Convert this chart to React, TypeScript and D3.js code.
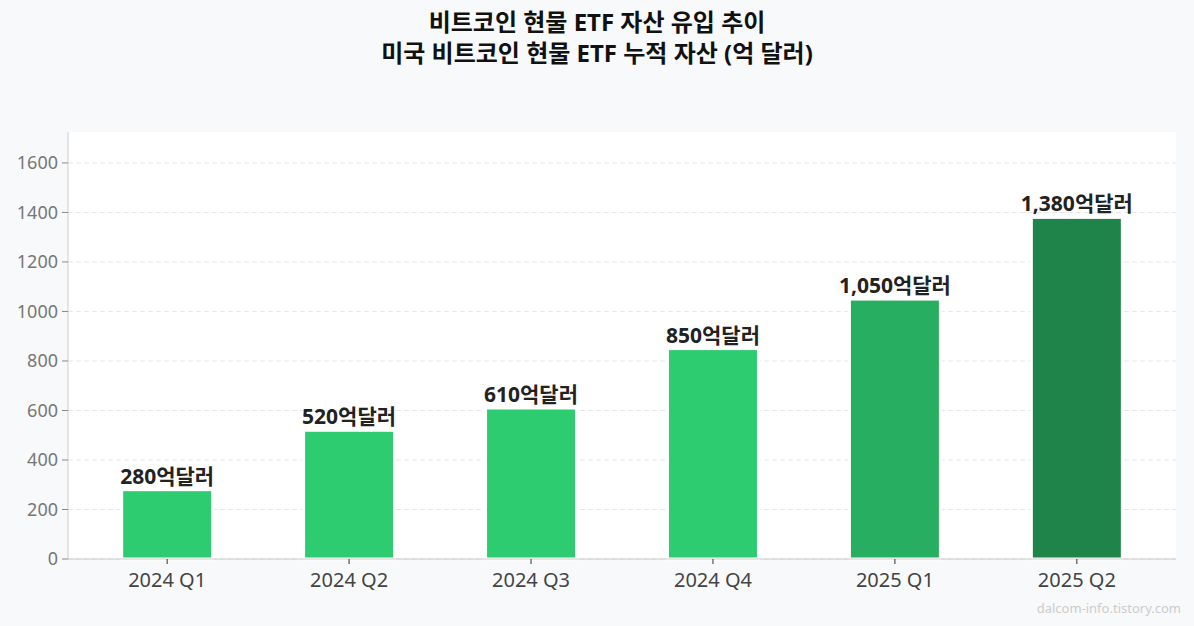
import * as React from 'react';
import * as d3 from 'd3';

const categories = ['2024 Q1', '2024 Q2', '2024 Q3', '2024 Q4', '2025 Q1', '2025 Q2'];
const values = [280, 520, 610, 850, 1050, 1380];
const labels = ['280억달러', '520억달러', '610억달러', '850억달러', '1,050억달러', '1,380억달러'];
const colours = ['#2ecc71', '#2ecc71', '#2ecc71', '#2ecc71', '#27ae60', '#1e8449'];
const yTicks = [0, 200, 400, 600, 800, 1000, 1200, 1400, 1600];

const titleLines = ['비트코인 현물 ETF 자산 유입 추이', '미국 비트코인 현물 ETF 누적 자산 (억 달러)'];
const watermark = 'dalcom-info.tistory.com';

const W = 1194;
const H = 626;
const font = '"Noto Sans", "Noto Sans CJK KR", sans-serif';

const App = () => {
  const left = 68, right = 1176, top = 132, bottom = 559;

  const xScale = d3.scaleLinear().domain([-0.545, categories.length - 0.455]).range([left, right]);
  const yScale = d3.scaleLinear().domain([0, d3.max(values)! * 1.25]).range([bottom, top]);
  const barW = xScale(0.5) - xScale(0);

  return (
    <div style={{ position: 'absolute', left: 0, top: 0 }}>
      <svg width={W} height={H} style={{ display: 'block', fontFamily: font }}>
        <rect width={W} height={H} fill="#f8f9fa" />
        <rect x={left} y={top} width={right - left} height={bottom - top} fill="#ffffff" />

        {/* grid */}
        {yTicks.map(t => (
          <line key={'g' + t} x1={left} x2={right} y1={yScale(t)} y2={yScale(t)}
            stroke="#e6e6e6" strokeWidth={1} strokeDasharray="5,3" />
        ))}

        {/* bars */}
        {values.map((v, i) => (
          <rect key={'b' + i}
            x={xScale(i) - barW / 2}
            y={yScale(v)}
            width={barW}
            height={yScale(0) - yScale(v)}
            fill={colours[i]}
            stroke="#ffffff"
            strokeWidth={3} />
        ))}

        {/* value labels */}
        {values.map((v, i) => (
          <text key={'l' + i} x={xScale(i)} y={yScale(v) - 6} textAnchor="middle"
            fontSize={21} fontWeight="bold" fill="#222222">{labels[i]}</text>
        ))}

        {/* spines */}
        <line x1={left} x2={left} y1={top} y2={bottom} stroke="#cccccc" strokeWidth={1} />
        <line x1={left} x2={right} y1={bottom} y2={bottom} stroke="#cccccc" strokeWidth={1} />

        {/* y axis */}
        {yTicks.map(t => (
          <g key={'y' + t}>
            <line x1={left - 6} x2={left} y1={yScale(t)} y2={yScale(t)} stroke="#888888" strokeWidth={1} />
            <text x={left - 10} y={yScale(t)} dy="0.35em" textAnchor="end" fontSize={18} fill="#777777">{t}</text>
          </g>
        ))}

        {/* x axis */}
        {categories.map((c, i) => (
          <g key={'x' + i}>
            <line x1={xScale(i)} x2={xScale(i)} y1={bottom} y2={bottom + 5} stroke="#333333" strokeWidth={1} />
            <text x={xScale(i)} y={bottom + 28} textAnchor="middle" fontSize={20} fill="#444444">{c}</text>
          </g>
        ))}

        {/* title */}
        {titleLines.map((t, i) => (
          <text key={'t' + i} x={W / 2} y={31 + i * 31} textAnchor="middle" fontSize={24}
            fontWeight="bold" fill="#111111">{t}</text>
        ))}

        <text x={1181} y={613} textAnchor="end" fontSize={13} fill="#cccccc">{watermark}</text>
      </svg>
    </div>
  );
};

export default App;
